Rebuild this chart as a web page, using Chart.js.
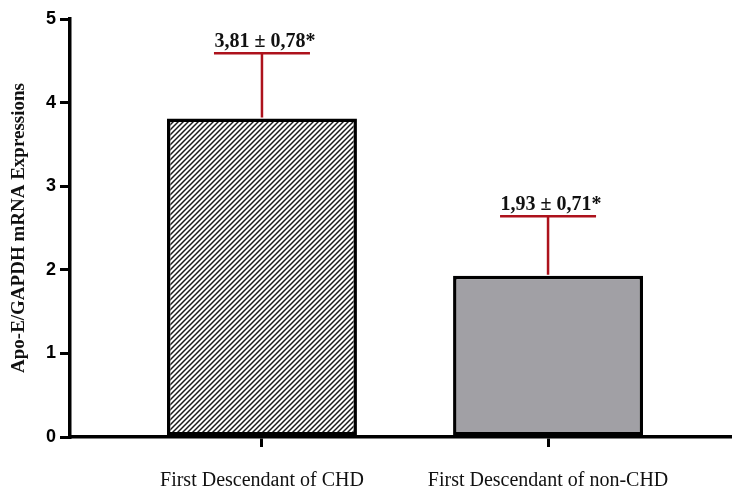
<!DOCTYPE html>
<html>
<head>
<meta charset="utf-8">
<script src="https://cdn.jsdelivr.net/npm/chart.js@4/dist/chart.umd.min.js"></script>
<style>
  html, body { margin: 0; padding: 0; background: #fff; }
  #graph { display: block; }
</style>
</head>
<body>
<canvas id="graph" width="732" height="496"></canvas>
<script>
const categories = ["First Descendant of CHD", "First Descendant of non-CHD"];
const means = [3.81, 1.93];
const sds = [0.78, 0.71];
const labels = ["3,81 \u00b1 0,78*", "1,93 \u00b1 0,71*"];
const yTicks = [0, 1, 2, 3, 4, 5];

// diagonal hatch for the first bar
function hatch() {
  const s = 5;
  const c = document.createElement("canvas");
  c.width = s;
  c.height = s;
  const g = c.getContext("2d");
  g.fillStyle = "#fff";
  g.fillRect(0, 0, s, s);
  g.strokeStyle = "#1a1a1a";
  g.lineWidth = 1.5;
  g.beginPath();
  g.moveTo(0, s); g.lineTo(s, 0);
  g.moveTo(-1, 1); g.lineTo(1, -1);
  g.moveTo(s - 1, s + 1); g.lineTo(s + 1, s - 1);
  g.stroke();
  return g.createPattern(c, "repeat");
}

const errorBars = {
  id: "errorBars",
  afterDatasetsDraw(chart) {
    const ctx = chart.ctx;
    const y = chart.scales.y;
    const meta = chart.getDatasetMeta(0);
    ctx.save();
    meta.data.forEach((bar, i) => {
      const top = y.getPixelForValue(means[i] + sds[i]);
      ctx.strokeStyle = "#ad121c";
      ctx.lineWidth = 2.5;
      ctx.beginPath();
      ctx.moveTo(bar.x, bar.y - 1);
      ctx.lineTo(bar.x, top);
      ctx.moveTo(bar.x - 48, top);
      ctx.lineTo(bar.x + 48, top);
      ctx.stroke();
      ctx.fillStyle = "#111";
      ctx.font = "bold 20px 'Liberation Serif'";
      ctx.textAlign = "center";
      ctx.textBaseline = "alphabetic";
      ctx.fillText(labels[i], bar.x + 3, top - 6);
    });
    ctx.restore();
  }
};

new Chart(document.getElementById("graph"), {
  type: "bar",
  data: {
    datasets: [{
      data: means.map((m, i) => ({ x: i, y: m })),
      backgroundColor: [hatch(), "#a1a0a5"],
      borderColor: "#000",
      borderWidth: 3.5,
      borderSkipped: false,
      barPercentage: 0.664,
      categoryPercentage: 1
    }]
  },
  options: {
    responsive: false,
    animation: false,
    layout: { padding: { top: 19, right: 0, left: 0, bottom: 0 } },
    plugins: { legend: { display: false }, tooltip: { enabled: false } },
    scales: {
      x: {
        type: "linear",
        offset: false,
        min: -0.671,
        max: 1.643,
        afterBuildTicks: (s) => { s.ticks = categories.map((c, i) => ({ value: i })); },
        afterFit: (s) => { s.height = 59; },
        ticks: {
          callback: (v) => categories[v],
          color: "#111",
          font: { family: "Liberation Serif", size: 20 },
          padding: 22,
          maxRotation: 0,
          autoSkip: false
        },
        grid: { offset: false, drawOnChartArea: false, tickLength: 10, lineWidth: 3, color: "#000" },
        border: { color: "#000", width: 3.5 }
      },
      y: {
        min: 0,
        max: 5,
        afterBuildTicks: (s) => { s.ticks = yTicks.map((v) => ({ value: v })); },
        afterFit: (s) => { s.width = 70; },
        ticks: {
          color: "#000",
          font: { family: "Liberation Sans", size: 18, weight: "bold" },
          padding: 4
        },
        grid: { drawOnChartArea: false, tickLength: 10, lineWidth: 3, color: "#000" },
        border: { color: "#000", width: 3.5 },
        title: {
          display: true,
          text: "Apo-E/GAPDH mRNA Expressions",
          color: "#111",
          font: { family: "Liberation Serif", size: 19, weight: "bold" },
          padding: { top: 8, bottom: 0 }
        }
      }
    }
  },
  plugins: [errorBars]
});
</script>
</body>
</html>
